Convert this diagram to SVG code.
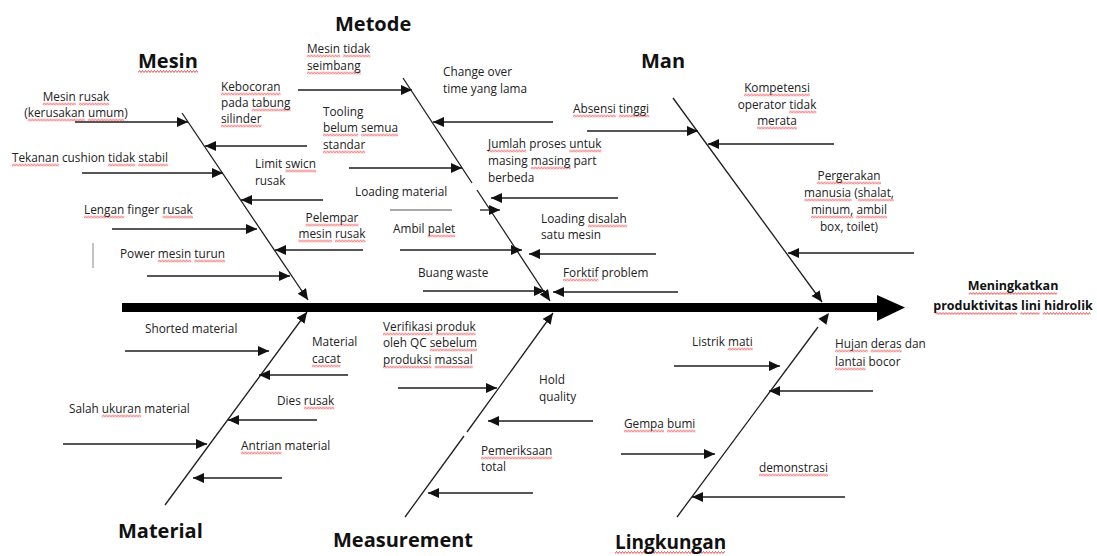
<svg xmlns="http://www.w3.org/2000/svg" width="1097" height="556" viewBox="0 0 1097 556">
<style>
text{font-family:"Open Sans","Noto Sans","Liberation Sans",sans-serif;font-size:11.8px;fill:#222}
.t{font-size:20px;font-weight:bold;fill:#111}
.e{font-size:12.5px;font-weight:bold;fill:#111}
.c{text-anchor:middle}
.sq{fill:url(#wv)}
.ln{stroke:#1e1e1e;stroke-width:1.3;fill:none}
.ar{stroke:#1e1e1e;stroke-width:1.3;fill:none;marker-end:url(#ah)}
</style>
<defs>
<marker id="ah" markerUnits="userSpaceOnUse" markerWidth="12" markerHeight="11" refX="11" refY="5" orient="auto">
<path d="M0,0 L11,5 L0,10 z" fill="#111"/>
</marker>
<pattern id="wv" patternUnits="userSpaceOnUse" width="3" height="3">
<path d="M-1.5,0.5 L0,2.5 L1.5,0.5 L3,2.5 L4.5,0.5" fill="none" stroke="#e02a2a" stroke-width="0.8"/>
</pattern>
</defs>
<rect width="1097" height="556" fill="#fff"/>
<g id="connectors">
<rect x="122" y="303" width="757" height="9" fill="#000"/>
<polygon points="877,295 905,307.5 877,321" fill="#000"/>
<line class="ar" x1="182" y1="113" x2="308" y2="300"/>
<line class="ar" x1="75" y1="122" x2="188" y2="122"/>
<line class="ar" x1="307" y1="146" x2="205" y2="146"/>
<line class="ar" x1="82" y1="173" x2="223" y2="173"/>
<line class="ar" x1="323" y1="200" x2="241" y2="200"/>
<line class="ar" x1="112" y1="229" x2="257" y2="229"/>
<line class="ar" x1="363" y1="250" x2="275" y2="250"/>
<line class="ar" x1="147" y1="276" x2="290" y2="276"/>
<line x1="93" y1="243" x2="93" y2="268" stroke="#888" stroke-width="1"/>
<line class="ln" x1="403" y1="78" x2="472" y2="183"/>
<line class="ar" x1="477" y1="190" x2="550" y2="301"/>
<line class="ar" x1="298" y1="90" x2="412" y2="90"/>
<line class="ar" x1="553" y1="122" x2="433" y2="122"/>
<line class="ar" x1="349" y1="168" x2="462" y2="168"/>
<line class="ar" x1="618" y1="198" x2="491" y2="198"/>
<line x1="390" y1="210" x2="452" y2="210" stroke="#555" stroke-width="1.2"/>
<line class="ar" x1="480" y1="210" x2="500" y2="210"/>
<line class="ar" x1="400" y1="250" x2="522" y2="250"/>
<line class="ar" x1="656" y1="254" x2="529" y2="254"/>
<line class="ar" x1="423" y1="291" x2="545" y2="291"/>
<line class="ar" x1="678" y1="292" x2="553" y2="292"/>
<line class="ar" x1="673" y1="98" x2="822" y2="302"/>
<line class="ar" x1="587" y1="131" x2="698" y2="131"/>
<line class="ar" x1="834" y1="144" x2="708" y2="144"/>
<line class="ar" x1="914" y1="253" x2="788" y2="253"/>
<line class="ar" x1="165" y1="505" x2="307" y2="312"/>
<line class="ar" x1="125" y1="351" x2="269" y2="351"/>
<line class="ar" x1="348" y1="375" x2="259" y2="375"/>
<line class="ar" x1="317" y1="420" x2="228" y2="420"/>
<line class="ar" x1="63" y1="444" x2="207" y2="444"/>
<line class="ar" x1="282" y1="478" x2="193" y2="478"/>
<line class="ln" x1="405" y1="517" x2="464" y2="436"/>
<line class="ar" x1="467" y1="432" x2="553" y2="313"/>
<line class="ar" x1="398" y1="388" x2="497" y2="388"/>
<line class="ar" x1="593" y1="421" x2="488" y2="421"/>
<line class="ar" x1="533" y1="493" x2="428" y2="493"/>
<line class="ln" x1="677" y1="517" x2="818" y2="327"/>
<polygon points="829,313 826.4,324.8 818.4,318.8" fill="#111"/>
<line class="ar" x1="674" y1="366" x2="780" y2="366"/>
<line class="ar" x1="873" y1="391" x2="769" y2="391"/>
<line class="ar" x1="621" y1="454" x2="715" y2="454"/>
<line class="ar" x1="845" y1="497" x2="692" y2="497"/>
</g>
<g id="effect">
<rect class="sq" transform="translate(968.7,292)" width="88.5" height="3"/><rect class="sq" transform="translate(935.5,312)" width="81.7" height="3"/><rect class="sq" transform="translate(1020.4,312)" width="19.2" height="3"/><rect class="sq" transform="translate(1042.9,312)" width="47.6" height="3"/>
<text class="e c" x="1013" y="290"><tspan>Meningkatkan</tspan></text><text class="e c" x="1013" y="310"><tspan>produktivitas</tspan> <tspan>lini</tspan> <tspan>hidrolik</tspan></text></g>
<g id="mesin"><rect class="sq" transform="translate(138,70)" width="60" height="3"/><text class="t" x="138" y="68"><tspan>Mesin</tspan></text></g>
<g id="mesin-1"><rect class="sq" transform="translate(42.7,102.5)" width="33.1" height="3"/><rect class="sq" transform="translate(78.9,102.5)" width="30.4" height="3"/><rect class="sq" transform="translate(27.7,118.5)" width="57.1" height="3"/><rect class="sq" transform="translate(87.8,118.5)" width="36.4" height="3"/>
<text class="c" x="76" y="101"><tspan>Mesin</tspan> <tspan>rusak</tspan></text><text class="c" x="76" y="117">(<tspan>kerusakan</tspan> <tspan>umum</tspan>)</text></g>
<g id="mesin-2"><rect class="sq" transform="translate(221,92.5)" width="59.6" height="3"/><rect class="sq" transform="translate(251.7,108.5)" width="38.9" height="3"/><rect class="sq" transform="translate(221,124.5)" width="40.5" height="3"/>
<text x="221" y="91"><tspan>Kebocoran</tspan></text><text x="221" y="107">pada <tspan>tabung</tspan></text><text x="221" y="123"><tspan>silinder</tspan></text></g>
<g id="mesin-3"><rect class="sq" transform="translate(12,163.5)" width="46.9" height="3"/><rect class="sq" transform="translate(108.1,163.5)" width="27.1" height="3"/><rect class="sq" transform="translate(138.3,163.5)" width="29.6" height="3"/>
<text x="12" y="162"><tspan>Tekanan</tspan> cushion <tspan>tidak</tspan> <tspan>stabil</tspan></text></g>
<g id="mesin-4"><rect class="sq" transform="translate(285.4,169.5)" width="30.7" height="3"/><text x="255" y="168">Limit <tspan>swicn</tspan></text><text x="255" y="185">rusak</text></g>
<g id="mesin-5"><rect class="sq" transform="translate(84,215.5)" width="40.3" height="3"/><rect class="sq" transform="translate(162.6,215.5)" width="30.4" height="3"/><text x="84" y="214"><tspan>Lengan</tspan> finger <tspan>rusak</tspan></text></g>
<g id="mesin-6"><rect class="sq" transform="translate(305.6,223.5)" width="52.9" height="3"/><rect class="sq" transform="translate(298.5,239.5)" width="33.5" height="3"/><rect class="sq" transform="translate(335,239.5)" width="30.4" height="3"/>
<text class="c" x="332" y="222"><tspan>Pelempar</tspan></text><text class="c" x="332" y="238"><tspan>mesin</tspan> <tspan>rusak</tspan></text></g>
<g id="mesin-7"><rect class="sq" transform="translate(157.9,259.5)" width="33.5" height="3"/><rect class="sq" transform="translate(194.4,259.5)" width="30.7" height="3"/><text x="120" y="258">Power <tspan>mesin</tspan> <tspan>turun</tspan></text></g>
<g id="metode"><text class="t" x="335" y="31">Metode</text></g>
<g id="metode-1"><rect class="sq" transform="translate(307,54.5)" width="33.1" height="3"/><rect class="sq" transform="translate(343.2,54.5)" width="27.1" height="3"/><rect class="sq" transform="translate(307,71.5)" width="53.7" height="3"/>
<text x="307" y="53"><tspan>Mesin</tspan> <tspan>tidak</tspan></text><text x="307" y="70"><tspan>seimbang</tspan></text></g>
<g id="metode-2"><text x="443" y="76">Change over</text><text x="443" y="93">time yang lama</text></g>
<g id="metode-3"><rect class="sq" transform="translate(323,133.5)" width="35.1" height="3"/><rect class="sq" transform="translate(361.1,133.5)" width="37" height="3"/><rect class="sq" transform="translate(323,150.5)" width="42.2" height="3"/>
<text x="323" y="116">Tooling</text><text x="323" y="132"><tspan>belum</tspan> <tspan>semua</tspan></text><text x="323" y="149"><tspan>standar</tspan></text></g>
<g id="metode-4"><rect class="sq" transform="translate(488,149.5)" width="38.2" height="3"/><rect class="sq" transform="translate(569.3,149.5)" width="32.1" height="3"/><rect class="sq" transform="translate(530.9,166.5)" width="39.9" height="3"/>
<text x="488" y="148"><tspan>Jumlah</tspan> proses <tspan>untuk</tspan></text><text x="488" y="165">masing <tspan>masing</tspan> part</text><text x="488" y="182">berbeda</text></g>
<g id="metode-5"><text x="355" y="196">Loading material</text></g>
<g id="metode-6"><rect class="sq" transform="translate(427.7,234.5)" width="27.6" height="3"/><text x="393" y="233">Ambil <tspan>palet</tspan></text></g>
<g id="metode-7"><rect class="sq" transform="translate(587.9,224.5)" width="39.2" height="3"/><text x="541" y="223">Loading <tspan>disalah</tspan></text><text x="541" y="239">satu mesin</text></g>
<g id="metode-8"><text x="418" y="277">Buang waste</text></g>
<g id="metode-9"><rect class="sq" transform="translate(563,278.5)" width="35.4" height="3"/><text x="563" y="277"><tspan>Forktif</tspan> problem</text></g>
<g id="man"><text class="t" x="641" y="68">Man</text></g>
<g id="man-1"><rect class="sq" transform="translate(573,114.5)" width="42.8" height="3"/><rect class="sq" transform="translate(618.9,114.5)" width="30.3" height="3"/><text x="573" y="113"><tspan>Absensi</tspan> <tspan>tinggi</tspan></text></g>
<g id="man-2"><rect class="sq" transform="translate(744.1,93.5)" width="65.8" height="3"/><rect class="sq" transform="translate(789.2,110.5)" width="27.1" height="3"/><rect class="sq" transform="translate(757.2,126.5)" width="39.7" height="3"/>
<text class="c" x="777" y="92"><tspan>Kompetensi</tspan></text><text class="c" x="777" y="109">operator <tspan>tidak</tspan></text><text class="c" x="777" y="125"><tspan>merata</tspan></text></g>
<g id="man-3"><rect class="sq" transform="translate(816.9,181.5)" width="64.1" height="3"/><rect class="sq" transform="translate(804.3,198.5)" width="47.2" height="3"/><rect class="sq" transform="translate(857.7,198.5)" width="36" height="3"/><rect class="sq" transform="translate(811,215.5)" width="42.3" height="3"/><rect class="sq" transform="translate(856.3,215.5)" width="30.7" height="3"/>
<text class="c" x="849" y="180"><tspan>Pergerakan</tspan></text><text class="c" x="849" y="197"><tspan>manusia</tspan> (<tspan>shalat,</tspan></text><text class="c" x="849" y="214"><tspan>minum,</tspan> <tspan>ambil</tspan></text><text class="c" x="849" y="231">box, toilet)</text></g>
<g id="material"><text class="t" x="118" y="538">Material</text></g>
<g id="material-1"><text x="145" y="333">Shorted material</text></g>
<g id="material-2"><rect class="sq" transform="translate(312,364.5)" width="28.5" height="3"/><text x="312" y="346">Material</text><text x="312" y="363"><tspan>cacat</tspan></text></g>
<g id="material-3"><rect class="sq" transform="translate(303.9,406.5)" width="30.4" height="3"/><text x="277" y="405">Dies <tspan>rusak</tspan></text></g>
<g id="material-4"><rect class="sq" transform="translate(101.8,414.5)" width="39.3" height="3"/><text x="69" y="413">Salah <tspan>ukuran</tspan> material</text></g>
<g id="material-5"><rect class="sq" transform="translate(241,451.5)" width="40.5" height="3"/><text x="241" y="450"><tspan>Antrian</tspan> material</text></g>
<g id="measurement"><text class="t" x="333" y="547">Measurement</text></g>
<g id="measurement-1"><rect class="sq" transform="translate(383,332.5)" width="49.7" height="3"/><rect class="sq" transform="translate(435.8,332.5)" width="39.8" height="3"/><rect class="sq" transform="translate(429.8,348.5)" width="47.3" height="3"/><rect class="sq" transform="translate(383,365.5)" width="48.5" height="3"/><rect class="sq" transform="translate(434.5,365.5)" width="38.3" height="3"/>
<text x="383" y="331"><tspan>Verifikasi</tspan> <tspan>produk</tspan></text><text x="383" y="347">oleh QC <tspan>sebelum</tspan></text><text x="383" y="364"><tspan>produksi</tspan> <tspan>massal</tspan></text></g>
<g id="measurement-2"><text x="539" y="384">Hold</text><text x="539" y="401">quality</text></g>
<g id="measurement-3"><rect class="sq" transform="translate(481,456.5)" width="71.3" height="3"/><text x="481" y="455"><tspan>Pemeriksaan</tspan></text><text x="481" y="471">total</text></g>
<g id="lingkungan"><rect class="sq" transform="translate(615,551)" width="110" height="3"/><text class="t" x="615" y="549" style="font-size:19px"><tspan>Lingkungan</tspan></text></g>
<g id="lingkungan-1"><rect class="sq" transform="translate(728,347.5)" width="24.7" height="3"/><text x="692" y="346">Listrik <tspan>mati</tspan></text></g>
<g id="lingkungan-2"><rect class="sq" transform="translate(835,349.5)" width="32.7" height="3"/><rect class="sq" transform="translate(870.8,349.5)" width="30.9" height="3"/><rect class="sq" transform="translate(835,367.5)" width="30.5" height="3"/>
<text x="835" y="348"><tspan>Hujan</tspan> <tspan>deras</tspan> dan</text><text x="835" y="366"><tspan>lantai</tspan> bocor</text></g>
<g id="lingkungan-3"><rect class="sq" transform="translate(624,429.5)" width="40" height="3"/><rect class="sq" transform="translate(667,429.5)" width="28.4" height="3"/><text x="624" y="428"><tspan>Gempa</tspan> <tspan>bumi</tspan></text></g>
<g id="lingkungan-4"><rect class="sq" transform="translate(759,473.5)" width="69" height="3"/><text x="759" y="472"><tspan>demonstrasi</tspan></text></g>
</svg>
